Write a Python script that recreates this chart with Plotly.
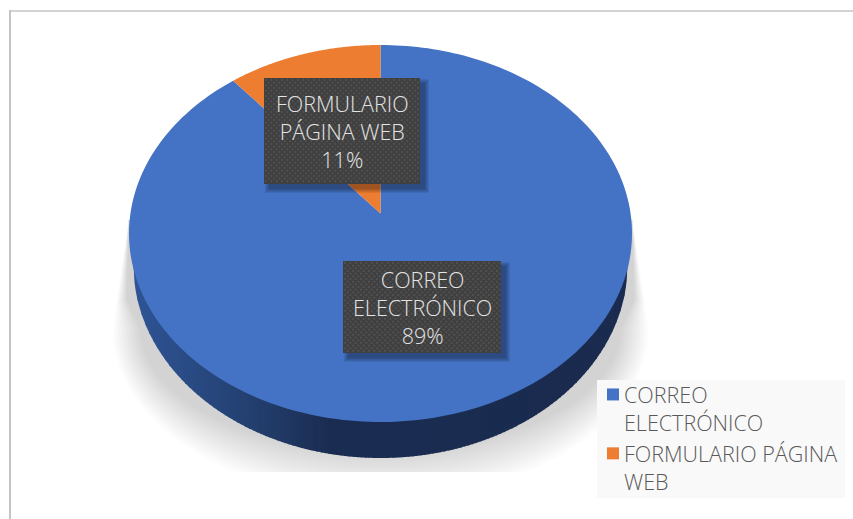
import numpy as np
import plotly.graph_objects as go

categories = ["CORREO ELECTRÓNICO", "FORMULARIO PÁGINA WEB"]
legend_labels = ["CORREO<br>ELECTRÓNICO", "FORMULARIO PÁGINA<br>WEB"]
slice_labels = ["CORREO<br>ELECTRÓNICO<br>89%", "FORMULARIO<br>PÁGINA WEB<br>11%"]
values = [89, 11]
colors = ["#4472C4", "#ED7D31"]

W, H = 853, 519
CX, CY, RX, RY = 380.5, 233.5, 251.5, 188.5
TILT = 0.106   # perspective shift of the pie's centre
FONT = "Open Sans"


def project(theta):
    """Clockwise angle from 12 o'clock on the pie -> screen position on the tilted disc."""
    u, v = np.sin(theta), np.cos(theta)
    k = 1 + TILT * v
    s = (v + TILT) / k
    x = u * np.sqrt(1 - TILT ** 2) / k
    return CX + RX * x, CY - RY * s


def project_center():
    return CX, CY - RY * TILT


fig = go.Figure()


def poly(xs, ys, color):
    fig.add_trace(go.Scatter(x=list(xs), y=list(ys), mode="none", fill="toself",
                             fillcolor=color, showlegend=False, hoverinfo="skip"))


# floor shadow: tight wedge at the top, blurred lower edge clipped flat at the bottom
N = 22
SH_TOP, SH_SHOULDER, SH_MID = 220, 300, 330
for k in range(N):
    f = k / (N - 1)
    rx = 268 - 28 * f
    ry = 170 - 48 * f
    hw = 264 - 10 * f
    t = np.linspace(np.pi / 2, -np.pi / 2, 120)
    low_x = CX + rx * np.sin(t)
    low_y = np.minimum(SH_MID + ry * np.cos(t), 472)
    xs = [CX - 252, CX + 252, CX + hw] + list(low_x) + [CX - hw]
    ys = [SH_TOP, SH_TOP, SH_SHOULDER] + list(low_y) + [SH_SHOULDER]
    poly(xs + [xs[0]], ys + [ys[0]], "rgba(0,0,0,0.0095)")

# side wall: vertical strips shaded left to right
BX, BY, BRX, BRY = 380.5, 265, 247, 193
stops_x = [133, 250, 330, 628]
stops_c = [(47, 85, 151), (36, 64, 112), (27, 45, 82), (26, 43, 79)]
edges = np.linspace(BX - BRX, BX + BRX, 125)
for a, b in zip(edges[:-1], edges[1:]):
    mid = (a + b) / 2
    col = [np.interp(mid, stops_x, [c[i] for c in stops_c]) for i in range(3)]
    xs = np.linspace(a, min(b + 1, BX + BRX), 6)
    low = BY + BRY * np.sqrt(np.clip(1 - ((xs - BX) / BRX) ** 2, 0, 1))
    poly(list(xs) + [xs[-1], xs[0]], list(low) + [CY, CY],
         "rgb(%d,%d,%d)" % tuple(col))

# top face, one wedge per value
fractions = np.array(values) / sum(values)
start = 0.0
cx0, cy0 = project_center()
for frac, name, col in zip(fractions, categories, colors):
    t = np.linspace(start, start + frac * 2 * np.pi, 240)
    xs, ys = project(t)
    poly([cx0] + list(xs) + [cx0], [cy0] + list(ys) + [cy0], col)
    start += frac * 2 * np.pi

# legend panel
poly([597, 845, 845, 597, 597], [380, 380, 498, 498, 380], "#F9F9F9")

# data-label boxes
boxes = [(343, 501, 261, 353), (264, 420, 78, 184)]
for (x0, x1, y0, y1), label in zip(boxes, slice_labels):
    for g in range(5):
        e = 4 - g
        poly([x0 + 5 - e, x1 + 5 + e, x1 + 5 + e, x0 + 5 - e, x0 + 5 - e],
             [y0 + 5 - e, y0 + 5 - e, y1 + 5 + e, y1 + 5 + e, y0 + 5 - e],
             "rgba(0,0,0,0.075)")
    poly([x0, x1, x1, x0, x0], [y0, y0, y1, y1, y0], "#404040")
    px, py = [], []
    step = 5.33
    for r, yy in enumerate(np.arange(y0 + 2, y1 - 1, step / 2)):
        off = 0 if r % 2 == 0 else step / 2
        for xx in np.arange(x0 + 2 + off, x1 - 1, step):
            px.append(xx)
            py.append(yy)
    fig.add_trace(go.Scatter(x=px, y=py, mode="markers", showlegend=False, hoverinfo="skip",
                             marker=dict(symbol="square", size=1.8, color="#525252", line_width=0)))
    fig.add_annotation(x=(x0 + x1) / 2, y=(y0 + y1) / 2, text=label, showarrow=False,
                       align="center", font=dict(family=FONT, size=21.5, color="#E4E4E4", weight=300))

# legend entries
for lab, col in zip(legend_labels, colors):
    fig.add_trace(go.Scatter(x=[None], y=[None], mode="markers", name=lab,
                             marker=dict(symbol="square", size=13, color=col)))

fig.update_layout(
    width=W, height=H, margin=dict(l=0, r=0, t=0, b=0, autoexpand=False),
    paper_bgcolor="white", plot_bgcolor="white",
    xaxis=dict(range=[0, W], visible=False, fixedrange=True),
    yaxis=dict(range=[H, 0], visible=False, fixedrange=True),
    legend=dict(x=584 / W, y=1 - 374 / H, xanchor="left", yanchor="top",
                bgcolor="rgba(0,0,0,0)", font=dict(family=FONT, size=21.5, color="#595959", weight=300),
                itemsizing="constant", entrywidth=225, entrywidthmode="pixels",
                traceorder="normal", tracegroupgap=0),
    shapes=[
        dict(type="line", xref="paper", yref="paper", x0=10 / W, x1=1, y0=1 - 11 / H, y1=1 - 11 / H,
             line=dict(color="#C4C4C4", width=1.5)),
        dict(type="line", xref="paper", yref="paper", x0=10 / W, x1=10 / W, y0=1 - 10 / H, y1=0,
             line=dict(color="#C4C4C4", width=2)),
    ],
)
fig.write_html("out.html", config={"displayModeBar": False},
               post_script=("document.body.style.margin='0';"
                            "document.documentElement.style.overflow='hidden';"
                            "document.querySelectorAll('.legendsymbols').forEach(function(e){"
                            "e.setAttribute('transform','translate(9,-14)');});"))
